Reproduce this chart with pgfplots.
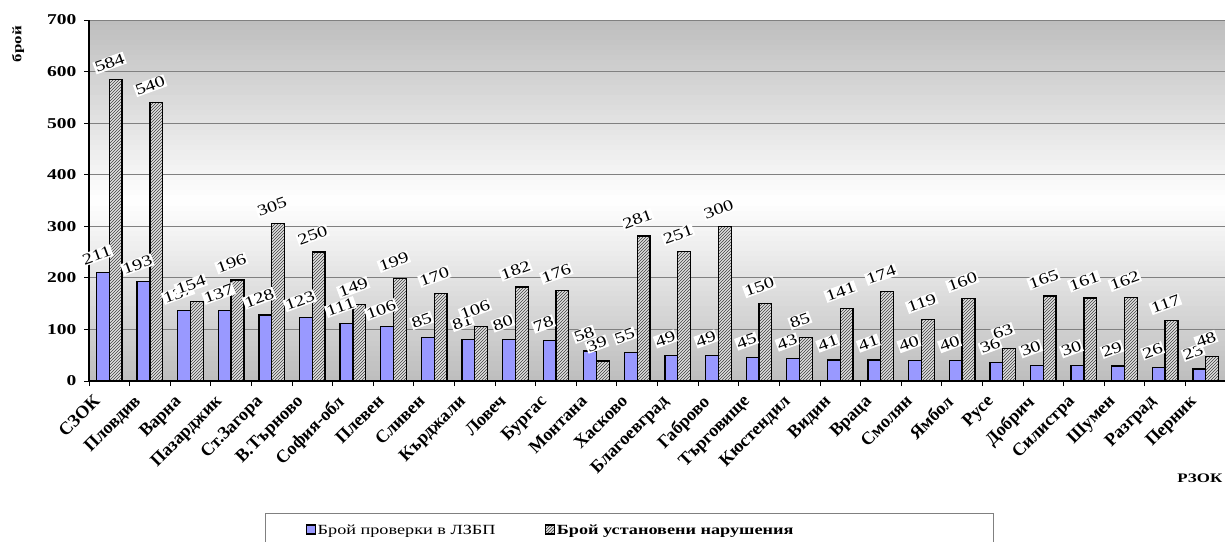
\documentclass[border=0pt]{standalone}
\usepackage{fontspec}
\setmainfont[FakeStretch=1.3]{Liberation Serif}
\newfontfamily\catfont{Liberation Serif}
\usepackage{pgfplots}
\pgfplotsset{compat=1.18}
\usetikzlibrary{patterns}

\definecolor{barblue}{HTML}{9999FF}
\definecolor{gridgray}{HTML}{808080}
\definecolor{bggray}{HTML}{BDBDBD}

\pgfplotstableread{
idx checks violations
0  211 584
1  193 540
2  137 154
3  137 196
4  128 305
5  123 250
6  111 149
7  106 199
8   85 170
9   81 106
10  80 182
11  78 176
12  58  39
13  55 281
14  49 251
15  49 300
16  45 150
17  43  85
18  41 141
19  41 174
20  40 119
21  40 160
22  36  63
23  30 165
24  30 161
25  29 162
26  26 117
27  23  48
}\datatable

\begin{document}
\begin{tikzpicture}[x=1pt,y=1pt]
% plot-area backdrop: gray at top and bottom, white in the middle
\foreach \i in {0,...,71}{
  \pgfmathsetmacro\yy{160+\i*5.01389}
  \pgfmathsetmacro\p{min(100,abs(\i+0.5-36)/36*100)}
  \fill[bggray!\p!white] (89,\yy) rectangle (1226,\yy+5.3);
}
\begin{axis}[
  at={(89pt,160pt)}, anchor=south west,
  scale only axis, width=1137pt, height=361pt,
  ybar=0pt, bar width=12.8pt,
  xmin=-0.5, xmax=27.5,
  ymin=0, ymax=700,
  ytick={0,100,...,700},
  xtick={-0.5,0.5,...,27.5},
  x tick label as interval,
  xticklabels={СЗОК,Пловдив,Варна,Пазарджик,Ст.Загора,В.Търново,София-обл,Плевен,Сливен,Кърджали,Ловеч,Бургас,Монтана,Хасково,Благоевград,Габрово,Търговище,Кюстендил,Видин,Враца,Смолян,Ямбол,Русе,Добрич,Силистра,Шумен,Разград,Перник},
  axis x line*=bottom, axis y line*=left,
  axis line style={black, line width=1.3pt, -},
  tick align=outside, major tick length=5pt,
  tick style={black, line width=0.8pt},
  ymajorgrids, grid style={gridgray, line width=1pt},
  /pgf/number format/assume math mode=true,
  yticklabel style={font=\fontsize{15}{15}\selectfont\bfseries, xshift=-4pt},
  xticklabel style={font=\catfont\fontsize{18}{18}\selectfont\bfseries, xshift=-17pt, yshift=-3pt, rotate=45, anchor=north east},
  ylabel={брой},
  ylabel style={font=\fontsize{13}{13}\selectfont\bfseries, at={(axis description cs:-0.0624,0.933)}, anchor=center},
  xlabel={РЗОК},
  xlabel style={font=\fontsize{13}{13}\selectfont\bfseries, at={(axis description cs:0.977,-0.269)}, anchor=center},
  nodes near coords,
  every node near coord/.append style={font=\fontsize{15.5}{15.5}\selectfont, fill=white, inner sep=1pt, rotate=20, yshift=11pt},
  legend columns=2,
  legend style={at={(axis description cs:0.1548,-0.3657)}, anchor=north west,
    draw=gridgray, line width=1pt, inner xsep=40pt, inner ysep=9pt,
    font=\fontsize{14}{14}\selectfont,
    /tikz/every even column/.append style={column sep=0pt}},
  legend image code/.code={\draw[#1,/tikz/.cd,line width=1.2pt] (0pt,-4pt) rectangle (9pt,5pt);},
]
\addplot[draw=black, line width=1.3pt, fill=barblue] table[x=idx, y=checks] {\datatable};
\addlegendentry{\makebox[225pt][l]{Брой проверки в ЛЗБП}}
\addplot[draw=black, line width=1.3pt, fill=white!88!black, postaction={pattern=north east lines, pattern color=black!75}] table[x=idx, y=violations] {\datatable};
\addlegendentry{\makebox[395pt][l]{\bfseries Брой установени нарушения}}
\end{axis}
\pgfresetboundingbox
\path[use as bounding box] (0,0) rectangle (1225,541);
\end{tikzpicture}
\end{document}
